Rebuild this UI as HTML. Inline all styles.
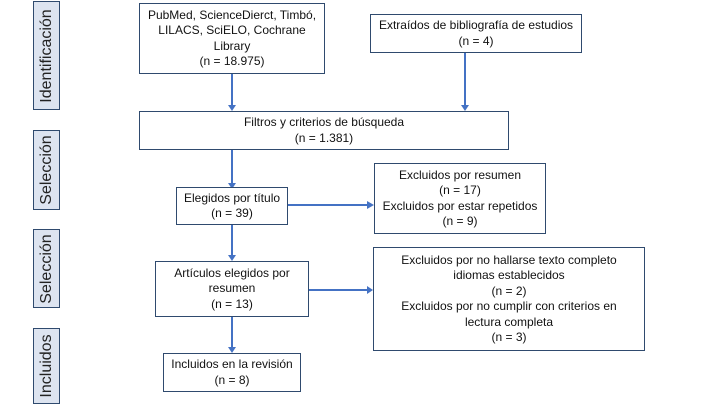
<!DOCTYPE html>
<html><head><meta charset="utf-8"><style>
body{margin:0;width:720px;height:405px;background:#fff;position:relative;overflow:hidden;font-family:"Liberation Sans",sans-serif;color:#111}
.b{position:absolute;border:1.3px solid #2f4a6e;box-sizing:border-box;background:#fff;display:flex;flex-direction:column;justify-content:center;align-items:center;text-align:center;font-size:12px;line-height:15.5px;white-space:nowrap}
.s{position:absolute;border:1.3px solid #2f4a6e;box-sizing:border-box;background:#dde4f0;width:27px;left:33px}
.s span{position:absolute;left:50%;top:50%;transform:translate(-50%,-50%) rotate(-90deg);white-space:nowrap;font-size:16px;color:#222}
</style></head><body>
<div class="s" style="top:1px;height:109px"><span>Identificación</span></div>
<div class="s" style="top:130px;height:80px"><span>Selección</span></div>
<div class="s" style="top:229px;height:79px"><span>Selección</span></div>
<div class="s" style="top:328px;height:76px"><span>Incluidos</span></div>
<svg width="720" height="405" style="position:absolute;left:0;top:0">
<g stroke="#4472c4" stroke-width="2" fill="none">
<line x1="232" y1="73" x2="232" y2="106"/><line x1="465" y1="52" x2="465" y2="106"/>
<line x1="232" y1="149" x2="232" y2="184"/><line x1="232" y1="224" x2="232" y2="256"/>
<line x1="232" y1="316" x2="232" y2="348"/><line x1="288" y1="205" x2="368" y2="205"/>
<line x1="308" y1="290" x2="368" y2="290"/></g>
<g fill="#4472c4">
<polygon points="228,105 236,105 232,111"/><polygon points="461,105 469,105 465,111"/>
<polygon points="228,183 236,183 232,189"/><polygon points="228,255 236,255 232,261"/>
<polygon points="228,347 236,347 232,353"/><polygon points="367,201 367,209 374,205"/>
<polygon points="367,286 367,294 373,290"/></g></svg>
<div class="b" style="left:139px;top:3px;width:186px;height:71px">PubMed, ScienceDierct, Timbó,<br>LILACS, SciELO, Cochrane<br>Library<br>(n = 18.975)</div>
<div class="b" style="left:370px;top:14px;width:212px;height:39px">Extraídos de bibliografía de estudios<br>(n = 4)</div>
<div class="b" style="left:139px;top:111px;width:370px;height:39px">Filtros y criterios de búsqueda<br>(n = 1.381)</div>
<div class="b" style="left:176px;top:187px;width:112px;height:38px">Elegidos por título<br>(n = 39)</div>
<div class="b" style="left:374px;top:163px;width:172px;height:71px">Excluidos por resumen<br>(n = 17)<br>Excluidos por estar repetidos<br>(n = 9)</div>
<div class="b" style="left:155px;top:261px;width:154px;height:56px">Artículos elegidos por<br>resumen<br>(n = 13)</div>
<div class="b" style="left:373px;top:247px;width:272px;height:104px">Excluidos por no hallarse texto completo<br>idiomas establecidos<br>(n = 2)<br>Excluidos por no cumplir con criterios en<br>lectura completa<br>(n = 3)</div>
<div class="b" style="left:163px;top:353px;width:138px;height:39px">Incluidos en la revisión<br>(n = 8)</div>
</body></html>
